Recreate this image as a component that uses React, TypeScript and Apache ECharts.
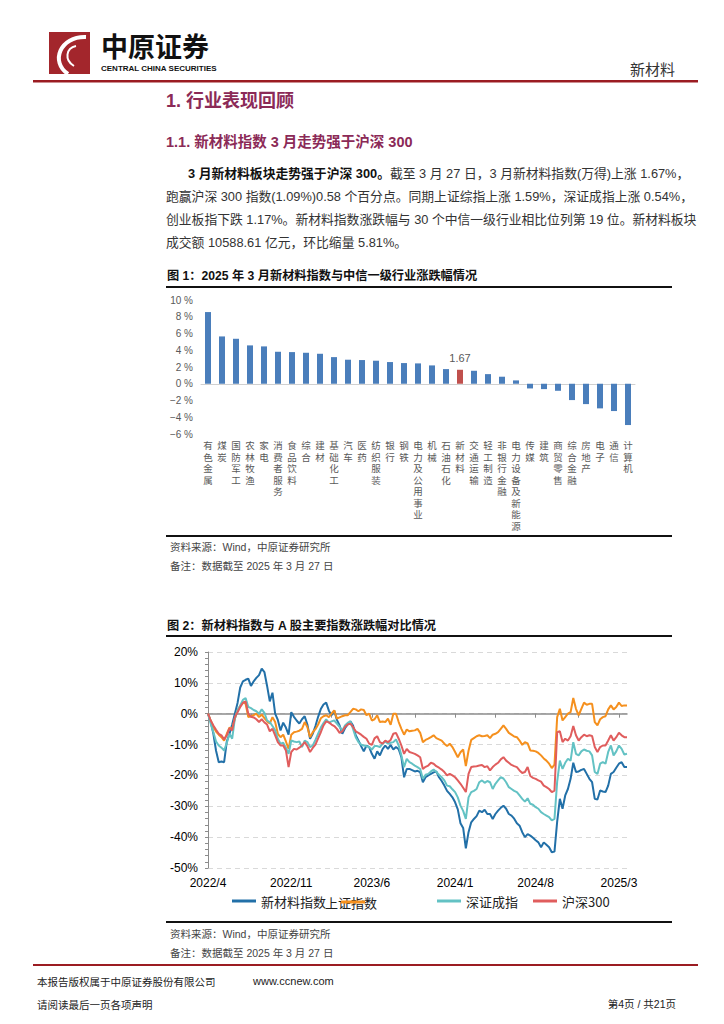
import React, { useEffect, useRef } from 'react';
import * as echarts from 'echarts';

const SANS = "'Liberation Sans', Arial, 'Noto Sans CJK SC', sans-serif";
const CJK = "'Noto Sans CJK SC', 'Liberation Sans', sans-serif";

// ---------- Figure 1 data ----------
const industries = [
  '有色金属', '煤炭', '国防军工', '农林牧渔', '家电', '消费者服务', '食品饮料', '综合', '建材', '基础化工',
  '汽车', '医药', '纺织服装', '银行', '钢铁', '电力及公用事业', '机械', '石油石化', '新材料', '交通运输',
  '轻工制造', '非银行金融', '电力设备及新能源', '传媒', '建筑', '商贸零售', '综合金融', '房地产', '电子', '通信', '计算机',
];
const industryChange = [
  8.56, 5.65, 5.37, 4.58, 4.46, 3.82, 3.78, 3.70, 3.58, 3.18,
  2.87, 2.83, 2.75, 2.59, 2.47, 2.43, 2.19, 1.75, 1.67, 1.55,
  1.15, 0.84, 0.40, -0.56, -0.64, -0.84, -1.95, -2.43, -2.94, -3.26, -4.93,
];
const HIGHLIGHT = '新材料';

// ---------- Figure 2 data (weekly, % change since 2022/4/1) ----------
const newMaterial = [
  0, -2.5, -6.5, -12, -15.7, -15.5, -15.7, -9, -6.5, -3.5,
  0, 3.5, 8.5, 10.5, 11, 11.4, 9, 10.5, 11.6, 12.5,
  14.6, 13.5, 9, 4, 6.8, 0, -2, -5.4, -2.9, -4.5,
  -6.8, 0.5, -1, -2.2, -3.2, -1.8, -0.8, -3.5, -8.1, -6.5,
  -4, -1, 1.5, 3, 3.6, 1, -0.5, 1, -2, -3.8,
  -6.5, -4.7, -3.5, -2.5, -3.8, -7, -8.7, -10.5, -12.2, -10.3,
  -10.8, -13, -14.6, -12.2, -13.5, -11.5, -10.3, -11.4, -10.1, -11.6,
  -10.8, -11.5, -14.1, -20.6, -17.9, -17.9, -18.3, -18.7, -18.5, -18.9,
  -22.2, -20.6, -20, -19.5, -19, -18.7, -20.6, -21.8, -23.3, -25,
  -26, -27.1, -28.7, -31, -35.5, -37, -43.6, -38.4, -35.2, -34.1,
  -33.2, -31.4, -31.9, -31.1, -32.5, -32.5, -34.1, -32.5, -31.4, -30.5,
  -29.8, -30.8, -32.5, -33, -34, -35.5, -36.3, -38.4, -40, -39,
  -39.5, -40.2, -41, -41.7, -43.3, -41.7, -42.5, -43.3, -44.9, -44.7,
  -35, -27.6, -30.8, -26.5, -24.4, -21.1, -15.9, -18.9, -18.7, -18.2,
  -17.9, -19.5, -21.1, -22.2, -27.6, -27.8, -24.9, -25.2, -25.4, -23.3,
  -19.5, -18.9, -17.5, -16.2, -15.7, -17.3, -17.3,
];
const shanghaiComposite = [
  0, -2.2, -4.2, -5.8, -6.8, -7.6, -8.7, -6.5, -4.5, -4.9,
  -1.6, 1.1, 2.5, 3.8, 3.2, -1.1, -0.8, -0.5, 0, -1.1,
  -0.3, -1.4, -2.5, -3.2, -1.1, -2.7, -6.5, -7.6, -6.8, -9,
  -11.4, -6.8, -6, -5.8, -5.5, -4.9, -2.7, -4.3, -7.6, -6,
  -5, -3.5, -1.5, -0.8, -0.5, -1.1, 0, 1.1, -1.6, -1.2,
  -0.8, -0.5, -0.5, 0.5, 1.6, 1.4, 0.8, 1.4, 1.2, -0.5,
  0, -2.2, -1.8, -0.5, -2.7, -2.5, -2.7, -1.6, -3.6, 0,
  0, -2.7, -4.9, -6.8, -5.1, -5.7, -5.5, -5.4, -4.9, -6.2,
  -9.2, -8.5, -8.1, -7.6, -7, -7.9, -8.3, -8.7, -9.7, -10.5,
  -9.7, -10.8, -12.4, -14.1, -12.5, -11.6, -17, -12, -8.5, -7.9,
  -7.3, -7, -7.3, -7.2, -7, -7.9, -6.8, -6.5, -6, -4.9,
  -3.8, -4.9, -6.2, -6.8, -7.4, -7.6, -8.7, -10.1, -9.2, -9.6,
  -11.9, -12, -12.2, -12.7, -13.5, -14.5, -15.2, -16.2, -17.6, -16.5,
  -1.1, 1.6, -2.2, -1.1, 0, 0.5, 5.1, 1.6, -0.5, 1.6,
  3.6, 2.9, 3.2, 3.2, -2.7, -3.8, -1.8, -1.1, -0.8, 1.4,
  2.7, 1.4, 2.2, 3.6, 2.5, 2.7, 2.7,
];
const shenzhenComponent = [
  0, -3.2, -6, -9, -10.3, -11, -11.9, -9.5, -6.5, -8.1,
  -1.6, 1.1, 2.7, 4.5, 5.1, 2.2, 1.8, 1.2, 0.8, 0,
  1.4, 0.3, -2.2, -2.7, -4, -5.4, -8.1, -9.7, -9.4, -11,
  -13, -8.7, -9, -9.2, -9, -10.8, -8.7, -9.2, -10.8, -10.3,
  -8.5, -6.5, -4.5, -3, -1.8, -2.9, -2.5, -2.2, -3.2, -4.3,
  -5.5, -3.8, -3, -2.5, -4.9, -7.6, -9.2, -10, -10.3, -10.5,
  -10.8, -11.6, -10.5, -10.5, -10.8, -9.7, -9, -9.7, -9.4, -9.2,
  -8.3, -10.3, -13.5, -17.3, -14.6, -15.7, -16.2, -16.8, -17.3, -17.9,
  -21.1, -19.8, -19.5, -18.7, -18.1, -18.9, -19.8, -20.6, -21.6, -23.3,
  -23.5, -24.5, -25.4, -27.1, -29.8, -31.5, -34.1, -27.1, -25.4, -25,
  -24.4, -22.2, -21.6, -22.4, -21.8, -22.2, -24.4, -22.7, -21.6, -20.6,
  -21, -22.2, -23.8, -24.4, -25, -25.4, -26.5, -27.6, -28.5, -27.4,
  -29.2, -29.5, -30.3, -30.8, -31.9, -32.5, -33, -33.5, -34.6, -34.1,
  -22, -15.2, -17.9, -15.9, -14.6, -15.2, -9.2, -13, -13.5, -12.2,
  -11.6, -12, -12.2, -13.5, -18.9, -19.5, -16.2, -15.7, -16.2, -12.4,
  -10.3, -13.5, -12.2, -10.3, -11.4, -13.2, -13,
];
const csi300 = [
  0, -2.2, -3.8, -5.2, -6.5, -7, -8.3, -7, -4.7, -5.4,
  -1.1, 0.5, 2.2, 3.5, 4, 0, -1, -1.2, -1.8, -2.7,
  -1.8, -2.8, -3.5, -5.7, -4.9, -7, -9.2, -10.3, -10.3, -11.9,
  -17.3, -12.4, -11.4, -11.6, -11, -10.3, -9.2, -10.5, -12.4, -11.1,
  -10, -8, -6, -3.8, -2.5, -2.8, -3.5, -4, -4.9, -6.2,
  -5.7, -4.3, -3.5, -3.2, -4.3, -5.7, -6.2, -6.8, -7.5, -8.1,
  -9.7, -10.1, -8, -7.3, -9.2, -9.7, -8.7, -9.2, -8.5, -6.5,
  -6.2, -8.1, -10.3, -13, -11.4, -12.4, -12.7, -13, -13.5, -14.1,
  -17.9, -17.2, -16.8, -15.9, -16.2, -17, -17.5, -18.1, -18.9, -20,
  -19.5, -20, -20.6, -21.6, -22.7, -24, -25.4, -19.5, -17.3, -17.1,
  -17, -16.8, -16.6, -17.3, -17, -18.4, -17.3, -16.5, -15.9, -14.8,
  -14.1, -15.2, -15.9, -16.6, -17, -17.3, -18.4, -19.2, -18.9, -17.3,
  -20.2, -20.8, -21.1, -21.6, -22, -23.3, -23.8, -24.4, -25.4, -24.9,
  -6, -5.7, -9.2, -8.1, -8.7, -7.3, -4, -7, -8.7, -7.6,
  -6.8, -7.3, -7, -7.2, -10.8, -12.4, -10.8, -10.3, -10.3, -8.7,
  -7, -8.7, -7.6, -6.2, -7, -7.6, -7.6,
];
const seriesNames = ['新材料指数', '上证指数', '深证成指', '沪深300'];
const seriesColors = ['#2270a8', '#f5901e', '#63c2c4', '#e05d5d'];
const LABEL_MONTHS = ['2022/4', '2022/11', '2023/6', '2024/1', '2024/8', '2025/3'];
const FIRST_DATE = '2022/4/1';
const LAST_DATE = '2025/3/27';

// weekly dates for the category axis
const buildDates = (n: number) => {
  const [y, m, d] = FIRST_DATE.split('/').map(Number);
  const start = Date.UTC(y, m - 1, d);
  const out: string[] = [];
  for (let i = 0; i < n; i++) {
    const t = new Date(start + i * 7 * 86400000);
    out.push(`${t.getUTCFullYear()}/${t.getUTCMonth() + 1}/${t.getUTCDate()}`);
  }
  out[n - 1] = LAST_DATE;
  return out;
};

export default function App() {
  const ref = useRef<HTMLDivElement>(null);

  useEffect(() => {
    if (!ref.current) return;
    const chart = echarts.init(ref.current, undefined, { renderer: 'svg' });

    const dates = buildDates(newMaterial.length);
    const ym = (s: string) => s.split('/').slice(0, 2).join('/');
    const labelIdx = LABEL_MONTHS.map((lm) => dates.findIndex((d) => ym(d) === lm));
    const tickIdx: number[] = [];
    labelIdx.forEach((v, i) => {
      tickIdx.push(v);
      if (i < labelIdx.length - 1) tickIdx.push(Math.round((v + labelIdx[i + 1]) / 2));
    });

    const txt = (x: number, y: number, text: string, size: number, opts: any = {}) => ({
      type: 'text',
      x,
      y,
      silent: true,
      style: {
        text,
        fontSize: size,
        fontFamily: opts.family || SANS,
        fontWeight: opts.bold ? 'bold' : 'normal',
        fill: opts.color || '#222',
        align: opts.align || 'left',
        verticalAlign: 'middle',
        rich: opts.rich,
      },
    });
    const rule = (x: number, y: number, w: number, h: number, color: string) => ({
      type: 'rect',
      silent: true,
      shape: { x, y, width: w, height: h },
      style: { fill: color },
    });

    const HEAD = '#8b2a57';
    const DARKRED = '#9b1c22';

    const graphics: any[] = [
      // header
      rule(49, 32, 41, 42, '#a3262c'),
      {
        type: 'bezierCurve',
        silent: true,
        shape: { x1: 86, y1: 37, cpx1: 60, cpy1: 36, cpx2: 50, cpy2: 62, x2: 68, y2: 74 },
        style: { stroke: '#fff', lineWidth: 4, fill: null },
      },
      {
        type: 'bezierCurve',
        silent: true,
        shape: { x1: 76, y1: 46, cpx1: 66, cpy1: 48, cpx2: 64, cpy2: 60, x2: 74, y2: 66 },
        style: { stroke: '#fff', lineWidth: 2, fill: null },
      },
      txt(101, 45, '中原证券', 27, { bold: true, family: CJK, color: '#111' }),
      txt(101, 68.5, 'CENTRAL CHINA SECURITIES', 8, { bold: true, color: '#111' }),
      txt(675, 68, '新材料', 15, { family: CJK, color: '#333', align: 'right' }),
      rule(33, 80, 665, 2.5, DARKRED),

      // headings
      txt(166, 101, '1. 行业表现回顾', 18, { bold: true, color: HEAD }),
      txt(166, 142, '1.1. 新材料指数 3 月走势强于沪深 300', 14.5, { bold: true, color: HEAD }),

      // paragraph
      txt(188, 173, '{b|3 月新材料板块走势强于沪深 300。}截至 3 月 27 日，3 月新材料指数(万得)上涨 1.67%，', 12.8, {
        color: '#333',
        rich: { b: { fontWeight: 'bold', fontSize: 12.8, fontFamily: SANS, fill: '#111' } },
      }),
      txt(166, 196, '跑赢沪深 300 指数(1.09%)0.58 个百分点。同期上证综指上涨 1.59%，深证成指上涨 0.54%，', 12.8, { color: '#333' }),
      txt(166, 219, '创业板指下跌 1.17%。新材料指数涨跌幅与 30 个中信一级行业相比位列第 19 位。新材料板块', 12.8, { color: '#333' }),
      txt(166, 242, '成交额 10588.61 亿元，环比缩量 5.81%。', 12.8, { color: '#333' }),

      // figure 1 frame
      txt(167, 276, '图 1：2025 年 3 月新材料指数与中信一级行业涨跌幅情况', 12.2, { bold: true, color: '#111' }),
      rule(166, 286, 506, 2, '#111'),
      rule(166, 535, 506, 2, '#111'),
      txt(170, 547, '资料来源：Wind，中原证券研究所', 10.5, { color: '#444' }),
      txt(170, 566, '备注：数据截至 2025 年 3 月 27 日', 10.5, { color: '#444' }),

      // figure 2 frame
      txt(167, 626, '图 2：新材料指数与 A 股主要指数涨跌幅对比情况', 12.2, { bold: true, color: '#111' }),
      rule(166, 635, 506, 2, '#111'),
      rule(166, 921, 506, 2, '#111'),
      txt(170, 934, '资料来源：Wind，中原证券研究所', 10.5, { color: '#444' }),
      txt(170, 953, '备注：数据截至 2025 年 3 月 27 日', 10.5, { color: '#444' }),
      // legend text of the second entry overlaps its own icon in the original
      txt(325, 902, seriesNames[1], 13, { family: CJK, color: '#222' }),

      // footer
      rule(33, 964, 665, 2, DARKRED),
      txt(37, 981, '本报告版权属于中原证券股份有限公司', 10.5, { family: CJK, color: '#222' }),
      txt(253, 981, 'www.ccnew.com', 11, { color: '#222' }),
      txt(37, 1004, '请阅读最后一页各项声明', 10.5, { family: CJK, color: '#222' }),
      txt(676, 1004, '第4页 / 共21页', 10.5, { color: '#222', align: 'right' }),
    ];

    const legendBase = {
      orient: 'horizontal',
      padding: 0,
      icon: 'rect',
      itemWidth: 24,
      itemHeight: 3,
      itemGap: 0,
      top: 894.5,
      selectedMode: false,
      textStyle: { fontSize: 13, color: '#222', fontFamily: CJK },
    };

    const lineData = [newMaterial, shanghaiComposite, shenzhenComponent, csi300];

    const option: any = {
      animation: false,
      backgroundColor: '#ffffff',
      textStyle: { fontFamily: SANS },
      grid: [
        { left: 201, top: 300, width: 434, height: 134 },
        { left: 208, top: 652, width: 419, height: 216 },
      ],
      xAxis: [
        {
          gridIndex: 0,
          type: 'category',
          data: industries,
          position: 'bottom',
          axisLine: { show: false, onZero: false },
          axisTick: { show: false },
          axisLabel: {
            interval: 0,
            margin: 6,
            fontSize: 9.5,
            lineHeight: 11.5,
            color: '#595959',
            fontFamily: SANS,
            formatter: (v: string) => v.split('').join('\n'),
          },
        },
        {
          gridIndex: 0,
          type: 'category',
          data: industries,
          position: 'bottom',
          axisLine: { show: true, onZero: true, lineStyle: { color: '#d0d0d0', width: 1 } },
          axisTick: { show: false },
          axisLabel: { show: false },
        },
        {
          gridIndex: 1,
          type: 'category',
          data: dates,
          boundaryGap: false,
          position: 'bottom',
          axisLine: { show: false, onZero: false },
          axisTick: { show: false },
          axisLabel: {
            interval: (i: number) => labelIdx.includes(i),
            formatter: (v: string) => ym(v),
            fontSize: 12,
            color: '#000',
            margin: 9,
            fontFamily: SANS,
          },
        },
        {
          gridIndex: 1,
          type: 'category',
          data: dates,
          boundaryGap: false,
          position: 'bottom',
          axisLine: { show: true, onZero: true, lineStyle: { color: '#8c8c8c', width: 1.5 } },
          axisTick: {
            show: true,
            interval: (i: number) => tickIdx.includes(i),
            length: 4,
            lineStyle: { color: '#8c8c8c' },
          },
          axisLabel: { show: false },
        },
      ],
      yAxis: [
        {
          gridIndex: 0,
          type: 'value',
          min: -6,
          max: 10,
          interval: 2,
          splitLine: { show: false },
          axisLine: { show: false },
          axisTick: { show: false },
          axisLabel: {
            margin: 8,
            fontSize: 10,
            color: '#595959',
            formatter: (v: number) => (v < 0 ? '−' + Math.abs(v) : String(v)) + ' %',
          },
        },
        {
          gridIndex: 1,
          type: 'value',
          min: -50,
          max: 20,
          interval: 10,
          splitLine: { show: true, lineStyle: { type: [5, 4], color: '#d9d9d9', width: 1 } },
          axisLine: { show: true, lineStyle: { color: '#8c8c8c', width: 1 } },
          axisTick: { show: true, length: 3, lineStyle: { color: '#8c8c8c' } },
          minorTick: { show: true, splitNumber: 5, length: 3, lineStyle: { color: '#8c8c8c' } },
          axisLabel: { margin: 10, fontSize: 12, color: '#000', formatter: (v: number) => v + '%' },
        },
      ],
      legend: [
        { ...legendBase, left: 232, data: [seriesNames[0]] },
        { ...legendBase, left: 341, top: 900.5, data: [seriesNames[1]], formatter: () => '' },
        { ...legendBase, left: 437, data: [seriesNames[2]] },
        { ...legendBase, left: 533, data: [seriesNames[3]] },
      ],
      series: [
        {
          type: 'bar',
          xAxisIndex: 0,
          yAxisIndex: 0,
          barWidth: 6,
          data: industryChange.map((v, i) => {
            const hi = industries[i] === HIGHLIGHT;
            return {
              value: v,
              itemStyle: { color: hi ? '#c0504d' : '#4a7ebb' },
              label: hi
                ? { show: true, position: 'top', distance: 6, fontSize: 11, color: '#595959', formatter: (p: any) => p.value.toFixed(2) }
                : { show: false },
            };
          }),
        },
        ...lineData.map((d, i) => ({
          type: 'line',
          name: seriesNames[i],
          xAxisIndex: 2,
          yAxisIndex: 1,
          data: d,
          symbol: 'none',
          showSymbol: false,
          color: seriesColors[i],
          lineStyle: { width: 2, color: seriesColors[i] },
        })),
      ],
      graphic: { elements: graphics },
    };

    chart.setOption(option);
    return () => chart.dispose();
  }, []);

  return (
    <div
      ref={ref}
      style={{ position: 'absolute', left: 0, top: 0, width: 724, height: 1024, background: '#fff' }}
    />
  );
}
